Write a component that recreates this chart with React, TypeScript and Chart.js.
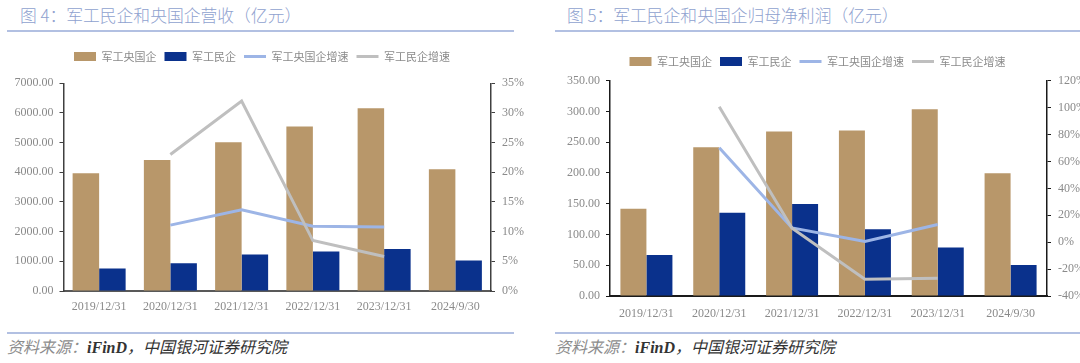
import React, { useEffect, useRef } from "react";
import { Chart, registerables } from "chart.js";

Chart.register(...registerables);

// ---------- data ----------
const categories = ["2019/12/31", "2020/12/31", "2021/12/31", "2022/12/31", "2023/12/31", "2024/9/30"];
const seriesNames = ["军工央国企", "军工民企", "军工央国企增速", "军工民企增速"];

// 图4 营收（亿元）
const revenueSoe = [3966, 4415, 5013, 5540, 6162, 4101];
const revenuePrivate = [757, 935, 1230, 1331, 1419, 1027];
const revenueSoeGrowth = [null, 11.1, 13.7, 10.9, 10.8, null];
const revenuePrivateGrowth = [null, 23.0, 32.0, 8.5, 5.8, null];

// 图5 归母净利润（亿元）
const profitSoe = [142, 242, 267.6, 269, 303.4, 199.4];
const profitPrivate = [66.6, 135.4, 149.5, 108.4, 79, 50.4];
const profitSoeGrowth = [null, 70.1, 10.6, 0.5, 13.1, null];
const profitPrivateGrowth = [null, 100.6, 10.4, -27.5, -26.8, null];

const titles = ["图 4：军工民企和央国企营收（亿元）", "图 5：军工民企和央国企归母净利润（亿元）"];
const sourceLabel = "资料来源：";
const sourceLatin = "iFinD";
const sourceText = "，中国银河证券研究院";

// ---------- styles ----------
const GOLD = "#b8976a";
const NAVY = "#0a318c";
const LIGHT_BLUE = "#9db5e6";
const GRAY = "#bfbfbf";
const TICK_COLOR = "#8a8a8a";
const SERIF = "'Liberation Serif', 'DejaVu Serif', serif";
const CJK = "'Noto Sans CJK SC', 'Noto Sans', sans-serif";

type PanelOpts = {
  width: number;
  height: number;
  soe: number[];
  priv: number[];
  soeG: (number | null)[];
  privG: (number | null)[];
  yMin: number;
  yMax: number;
  yStep: number;
  y1Min: number;
  y1Max: number;
  y1Step: number;
  leftW: number;
  rightW: number;
  xH: number;
  legendH: number;
  padTop: number;
  catPct: number;
  axisColor: string;
  bottomColor: string;
  xPad: number;
};

function buildConfig(o: PanelOpts): any {
  const legendHeightPlugin = {
    id: "legendHeight",
    beforeInit(chart: any) {
      const orig = chart.legend.fit;
      chart.legend.fit = function () {
        orig.call(this);
        this.height = o.legendH;
      };
    },
  };
  return {
    data: {
      labels: categories,
      datasets: [
        {
          type: "bar",
          label: seriesNames[0],
          data: o.soe,
          backgroundColor: GOLD,
          yAxisID: "y",
          order: 2,
          categoryPercentage: o.catPct,
          barPercentage: 1,
        },
        {
          type: "bar",
          label: seriesNames[1],
          data: o.priv,
          backgroundColor: NAVY,
          yAxisID: "y",
          order: 2,
          categoryPercentage: o.catPct,
          barPercentage: 1,
        },
        {
          type: "line",
          label: seriesNames[2],
          data: o.soeG,
          borderColor: LIGHT_BLUE,
          backgroundColor: LIGHT_BLUE,
          borderWidth: 3,
          pointRadius: 0,
          tension: 0,
          yAxisID: "y1",
          order: 1,
        },
        {
          type: "line",
          label: seriesNames[3],
          data: o.privG,
          borderColor: GRAY,
          backgroundColor: GRAY,
          borderWidth: 3,
          pointRadius: 0,
          tension: 0,
          yAxisID: "y1",
          order: 0,
        },
      ],
    },
    options: {
      responsive: false,
      animation: false,
      events: [],
      layout: { padding: { top: o.padTop, left: 0, right: 0, bottom: 0 } },
      plugins: {
        tooltip: { enabled: false },
        legend: {
          position: "top",
          labels: {
            usePointStyle: true,
            pointStyleWidth: 22,
            boxHeight: 9,
            padding: 8,
            color: "#8a8a8a",
            font: { family: CJK, size: 11 },
            generateLabels: (chart: any) =>
              chart.data.datasets.map((ds: any, i: number) => ({
                text: ds.label,
                fillStyle: ds.type === "bar" ? ds.backgroundColor : ds.borderColor,
                strokeStyle: ds.type === "bar" ? ds.backgroundColor : ds.borderColor,
                lineWidth: ds.type === "bar" ? 0 : 3,
                pointStyle: ds.type === "bar" ? "rect" : "line",
                hidden: false,
                datasetIndex: i,
                fontColor: "#8a8a8a",
              })),
          },
        },
      },
      scales: {
        x: {
          type: "category",
          offset: true,
          grid: { display: false, drawTicks: false },
          border: { display: true, color: o.bottomColor, width: 2 },
          ticks: {
            color: TICK_COLOR,
            font: { family: SERIF, size: 12 },
            padding: o.xPad,
            maxRotation: 0,
            autoSkip: false,
          },
          afterFit(scale: any) {
            scale.height = o.xH;
          },
        },
        y: {
          position: "left",
          min: o.yMin,
          max: o.yMax,
          grid: { display: true, drawOnChartArea: false, drawTicks: true, tickLength: 4, color: o.axisColor },
          border: { display: true, color: o.axisColor, width: 1.5 },
          ticks: {
            stepSize: o.yStep,
            color: TICK_COLOR,
            font: { family: SERIF, size: 12 },
            padding: 6,
            callback: (v: any) => Number(v).toFixed(2),
          },
          afterFit(scale: any) {
            scale.width = o.leftW;
          },
        },
        y1: {
          position: "right",
          min: o.y1Min,
          max: o.y1Max,
          grid: { display: true, drawOnChartArea: false, drawTicks: true, tickLength: 4, color: o.axisColor },
          border: { display: true, color: o.axisColor, width: 1.5 },
          ticks: {
            stepSize: o.y1Step,
            color: TICK_COLOR,
            font: { family: SERIF, size: 12 },
            padding: 7,
            callback: (v: any) => `${v}%`,
          },
          afterFit(scale: any) {
            scale.width = o.rightW;
          },
        },
      },
    },
    plugins: [legendHeightPlugin],
  };
}

function Panel(props: { left: number; top: number; opts: PanelOpts }) {
  const ref = useRef<HTMLCanvasElement>(null);
  useEffect(() => {
    if (!ref.current) return;
    const chart = new Chart(ref.current, buildConfig(props.opts));
    return () => chart.destroy();
  }, []);
  return (
    <div style={{ position: "absolute", left: props.left, top: props.top, width: props.opts.width, height: props.opts.height }}>
      <canvas ref={ref} width={props.opts.width} height={props.opts.height} style={{ display: "block" }} />
    </div>
  );
}

function Header(props: { textLeft: number; lineLeft: number; lineWidth: number; text: string }) {
  return (
    <>
      <div
        style={{
          position: "absolute",
          left: props.textLeft,
          top: 3,
          fontFamily: CJK,
          fontSize: 16.8,
          fontWeight: 300,
          lineHeight: "24px",
          color: "#8fa2cf",
          whiteSpace: "nowrap",
        }}
      >
        {props.text}
      </div>
      <div
        style={{
          position: "absolute",
          left: props.lineLeft,
          top: 30,
          width: props.lineWidth,
          height: 2,
          background: "#b2c0e2",
        }}
      />
    </>
  );
}

function Footer(props: { left: number; lineWidth: number }) {
  return (
    <>
      <div
        style={{
          position: "absolute",
          left: props.left,
          top: 332,
          width: props.lineWidth,
          height: 2,
          background: "#b2c0e2",
        }}
      />
      <div
        style={{
          position: "absolute",
          left: props.left,
          top: 338,
          fontSize: 16,
          lineHeight: "20px",
          whiteSpace: "nowrap",
          fontStyle: "italic",
          fontFamily: `'Liberation Serif', ${CJK}`,
        }}
      >
        <span style={{ color: "#8c8c8c" }}>{sourceLabel}</span>
        <span style={{ color: "#333", fontWeight: 700 }}>{sourceLatin}</span>
        <span style={{ color: "#333", fontWeight: 400 }}>{sourceText}</span>
      </div>
    </>
  );
}

export default function App() {
  const leftOpts: PanelOpts = {
    width: 524,
    height: 280,
    soe: revenueSoe,
    priv: revenuePrivate,
    soeG: revenueSoeGrowth,
    privG: revenuePrivateGrowth,
    yMin: 0,
    yMax: 7000,
    yStep: 1000,
    y1Min: 0,
    y1Max: 35,
    y1Step: 5,
    leftW: 63.5,
    rightW: 33,
    xH: 29,
    legendH: 40.3,
    padTop: 3,
    catPct: 0.744,
    axisColor: "#404040",
    bottomColor: "#595959",
    xPad: 9,
  };
  const rightOpts: PanelOpts = {
    width: 525,
    height: 285,
    soe: profitSoe,
    priv: profitPrivate,
    soeG: profitSoeGrowth,
    privG: profitPrivateGrowth,
    yMin: 0,
    yMax: 350,
    yStep: 50,
    y1Min: -40,
    y1Max: 120,
    y1Step: 20,
    leftW: 55,
    rightW: 33,
    xH: 29,
    legendH: 32.7,
    padTop: 8,
    catPct: 0.714,
    axisColor: "#1a1a1a",
    bottomColor: "#1a1a1a",
    xPad: 11,
  };
  return (
    <div style={{ position: "absolute", left: 0, top: 0, width: 1080, height: 363, background: "#fff", overflow: "hidden" }}>
      <Header textLeft={20} lineLeft={7} lineWidth={507} text={titles[0]} />
      <Header textLeft={567} lineLeft={555} lineWidth={525} text={titles[1]} />
      <Panel left={0} top={40} opts={leftOpts} />
      <Panel left={555} top={40} opts={rightOpts} />
      <Footer left={7} lineWidth={507} />
      <Footer left={555} lineWidth={525} />
    </div>
  );
}
